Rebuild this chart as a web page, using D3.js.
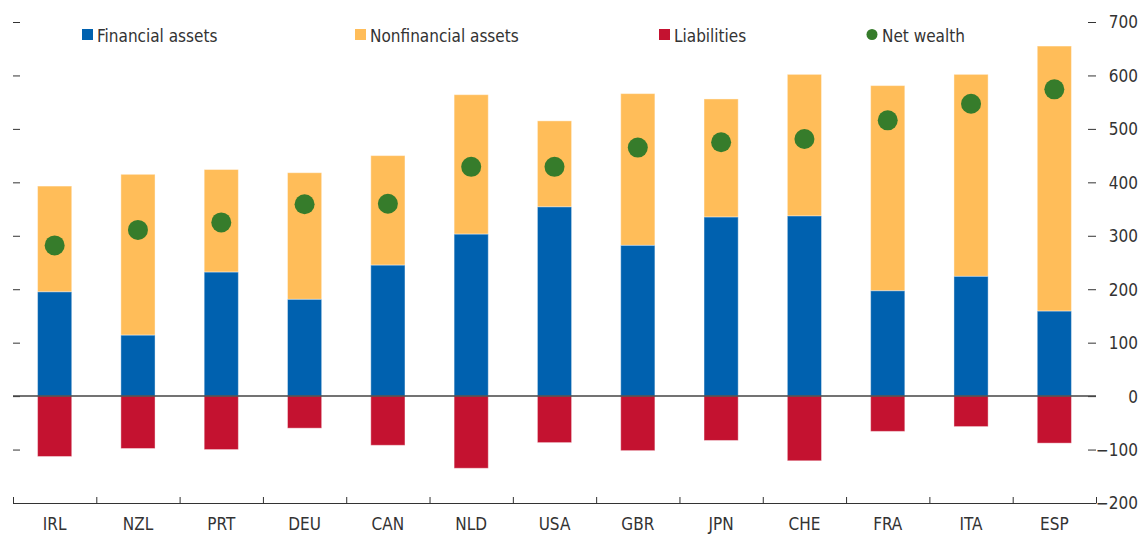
<!DOCTYPE html>
<html>
<head>
<meta charset="utf-8">
<script src="https://cdn.jsdelivr.net/npm/d3@7"></script>
<style>
  body { margin: 0; background: #fff; }
  svg text { font-family: "Liberation Sans Narrow", "Arial Narrow", "DejaVu Sans Condensed", sans-serif; fill: #333; }
  .axis path, .axis line { stroke: #333; }
</style>
</head>
<body>
<svg width="1140" height="535"></svg>
<script>
const countries    = ["IRL","NZL","PRT","DEU","CAN","NLD","USA","GBR","JPN","CHE","FRA","ITA","ESP"];
const financial    = [195, 114, 232, 181, 245, 303, 354, 282, 335, 337, 197, 224, 159];
const nonfinancial = [198, 301, 192, 237, 205, 261, 161, 284, 221, 265, 384, 378, 496];
const liabilities  = [-113, -98, -100, -60, -92, -135, -87, -102, -83, -121, -66, -57, -88];
const netWealth    = [282, 311, 325, 359, 360, 429, 429, 465, 475, 481, 516, 547, 574];
const yTicks = [-200, -100, 0, 100, 200, 300, 400, 500, 600, 700];

const plotL = 13, plotR = 1096, plotT = 22, plotB = 503;
const colors = { fin: "#0061AF", nonfin: "#FFBD59", liab: "#C41230", net: "#367C2B" };
const fontSize = "17px";

const svg = d3.select("svg");
const x = d3.scaleBand().domain(countries).range([plotL, plotR]).paddingInner(0.59).paddingOuter(0.295);
const y = d3.scaleLinear().domain([-200, 700]).range([plotB, plotT]);

// left ticks (no labels)
svg.append("g").attr("class", "axis")
    .attr("transform", `translate(${plotL},0)`)
    .call(d3.axisLeft(y).tickValues(yTicks).tickSize(-7).tickFormat(""))
    .call(g => g.select(".domain").remove());

// right axis
const ra = svg.append("g").attr("class", "axis")
    .attr("transform", `translate(${plotR - 8},0)`)
    .call(d3.axisRight(y).tickValues(yTicks).tickSize(8).tickFormat(d3.format("d")))
    .call(g => g.select(".domain").remove());
ra.selectAll("text").attr("x", 50).attr("text-anchor", "end").style("font-size", fontSize).attr("dy", "0.35em");

const rows = countries.map((c, i) => ({ c, fin: financial[i], non: nonfinancial[i], liab: liabilities[i], net: netWealth[i] }));

const bars = svg.append("g").selectAll("g").data(rows).join("g");
bars.append("rect")
    .attr("x", d => x(d.c)).attr("width", x.bandwidth())
    .attr("y", d => y(d.fin + d.non)).attr("height", d => y(d.fin) - y(d.fin + d.non))
    .attr("fill", colors.nonfin).attr("stroke", "#fff").attr("stroke-opacity", 0.4);
bars.append("rect")
    .attr("x", d => x(d.c)).attr("width", x.bandwidth())
    .attr("y", d => y(d.fin)).attr("height", d => y(0) - y(d.fin))
    .attr("fill", colors.fin).attr("stroke", "#fff").attr("stroke-opacity", 0.4);
bars.append("rect")
    .attr("x", d => x(d.c)).attr("width", x.bandwidth())
    .attr("y", y(0)).attr("height", d => y(d.liab) - y(0))
    .attr("fill", colors.liab).attr("stroke", "#fff").attr("stroke-opacity", 0.4);

// zero line
svg.append("line")
    .attr("x1", plotL).attr("x2", plotR)
    .attr("y1", y(0)).attr("y2", y(0))
    .attr("stroke", "#444").attr("stroke-width", 1.5);

// net wealth dots
svg.append("g").selectAll("circle").data(rows).join("circle")
    .attr("cx", d => x(d.c) + x.bandwidth() / 2)
    .attr("cy", d => y(d.net))
    .attr("r", 10)
    .attr("fill", colors.net);

// bottom axis: boundary ticks going up
const xb = d3.scaleLinear().domain([0, countries.length]).range([plotL, plotR]);
svg.append("g").attr("class", "axis")
    .attr("transform", `translate(0,${plotB})`)
    .call(d3.axisTop(xb).tickValues(d3.range(0, countries.length + 1)).tickSize(6).tickSizeOuter(0).tickFormat(""))
    .call(g => g.select(".domain").attr("stroke-width", 1.2));

// category labels
svg.append("g")
    .attr("transform", `translate(0,${plotB})`)
    .call(d3.axisBottom(x).tickSize(0).tickPadding(0))
    .call(g => g.select(".domain").remove())
    .selectAll("text").style("font-size", fontSize).attr("dy", null).attr("y", 27);

// legend
const legend = [
  { name: "Financial assets", color: colors.fin, x: 82 },
  { name: "Nonfinancial assets", color: colors.nonfin, x: 355 },
  { name: "Liabilities", color: colors.liab, x: 659 },
  { name: "Net wealth", color: colors.net, x: 866, dot: true }
];
const lg = svg.append("g").selectAll("g").data(legend).join("g")
    .attr("transform", d => `translate(${d.x},29)`);
lg.filter(d => !d.dot).append("rect").attr("width", 11).attr("height", 11).attr("fill", d => d.color);
lg.filter(d => d.dot).append("circle").attr("cx", 6).attr("cy", 5.5).attr("r", 5.5).attr("fill", d => d.color);
lg.append("text").attr("x", d => d.dot ? 16 : 15).attr("y", 12.5)
    .style("font-size", fontSize).text(d => d.name);
</script>
</body>
</html>
